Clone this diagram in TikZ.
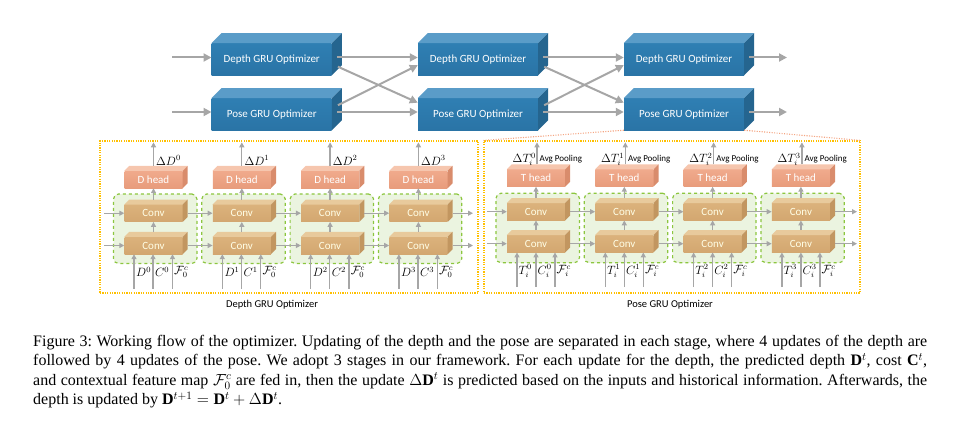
\RequirePackage{fix-cm}
\documentclass[tikz,border=0pt]{standalone}
\usepackage{fontspec}
\setmainfont{Liberation Serif}
\newfontfamily\carl{Carlito}
\usetikzlibrary{arrows.meta}
\definecolor{arrowgray}{HTML}{A6A6A6}
\definecolor{bluefront}{HTML}{2F7FB3}
\definecolor{bluefrontb}{HTML}{2A74A6}
\definecolor{bluetop}{HTML}{5A9CC8}
\definecolor{blueside}{HTML}{25658F}
\definecolor{headfront}{HTML}{F0AA8C}
\definecolor{headfrontb}{HTML}{E89C7C}
\definecolor{headtop}{HTML}{F6C6AE}
\definecolor{headside}{HTML}{D98C6C}
\definecolor{convfront}{HTML}{DBB27C}
\definecolor{convfrontb}{HTML}{D3A770}
\definecolor{convtop}{HTML}{E8CA9C}
\definecolor{convside}{HTML}{C29660}
\definecolor{greenfill}{HTML}{EBF4E0}
\definecolor{greenline}{HTML}{8CC63F}
\definecolor{goldline}{HTML}{FFC000}
\definecolor{salmonline}{HTML}{F4A582}
\newcommand\cubefaces[4]{%
  \fill[#3] (#1.north west) -- ([shift={(#2,-#2)}]#1.north west) -- ([shift={(#2,-#2)}]#1.north east) -- (#1.north east) -- cycle;
  \fill[#4] (#1.north east) -- ([shift={(#2,-#2)}]#1.north east) -- ([shift={(#2,-#2)}]#1.south east) -- (#1.south east) -- cycle;}
\tikzset{
  arr/.style={draw=arrowgray, line width=1.3pt, -{Triangle[length=5pt,width=5pt]}},
  bigarr/.style={draw=arrowgray, line width=2pt, -{Triangle[length=8pt,width=8pt]}},
  grubox/.style={minimum width=120pt, minimum height=31.7pt, inner sep=0pt, text=white,
    top color=bluefront, bottom color=bluefrontb, font=\carl\fontsize{11}{13}\selectfont},
  headbox/.style={minimum width=58pt, minimum height=17pt, inner sep=0pt, text=white,
    top color=headfront, bottom color=headfrontb, font=\carl\fontsize{11}{13}\selectfont},
  convbox/.style={minimum width=58pt, minimum height=17pt, inner sep=0pt, text=white!90!yellow,
    top color=convfront, bottom color=convfrontb, font=\carl\fontsize{11}{13}\selectfont},
  greenbox/.style={minimum width=83.4pt, minimum height=69.5pt, inner sep=0pt, fill=greenfill,
    draw=greenline, dashed, line width=1.2pt, rounded corners=5pt},
  goldbox/.style={minimum width=378pt, minimum height=152pt, inner sep=0pt,
    draw=goldline, line width=1.2pt, dash pattern=on 1.2pt off 1.2pt},
  mlbl/.style={inner sep=0pt, font=\fontsize{12}{13}\selectfont},
  smalltxt/.style={inner sep=0pt, font=\carl\fontsize{9}{11}\selectfont},
  undertxt/.style={inner sep=0pt, font=\carl\fontsize{10.5}{12}\selectfont},
}
\begin{document}
\begin{tikzpicture}[x=1pt,y=-1pt]
\useasboundingbox (0,0) rectangle (960,441);
% ---------- top row ----------
\foreach \n/\x in {A/271.7,B/478,C/684} {
  \node[grubox] (d\n) at (\x,59.2) {Depth GRU Optimizer};
  \cubefaces{d\n}{10}{bluetop}{blueside}
  \node[grubox] (p\n) at (\x,114.2) {Pose GRU Optimizer};
  \cubefaces{p\n}{10}{bluetop}{blueside}
}
\coordinate (inD) at (172,57.5);
\coordinate (inP) at (172,112);
\coordinate (outD) at (787,57.5);
\coordinate (outP) at (787,112);
\draw[bigarr] (inD) -- (inD -| dA.west);
\draw[bigarr] (inP) -- (inP -| pA.west);
\foreach \a/\b in {A/B,B/C} {
  \draw[bigarr] ([shift={(5,-1.7)}]d\a.east) -- ([shift={(0,-1.7)}]d\b.west);
  \draw[bigarr] ([shift={(5,-2.2)}]p\a.east) -- ([shift={(0,-2.2)}]p\b.west);
  \draw[bigarr] ([shift={(6,7.5)}]d\a.east) -- ([shift={(0,-11.5)}]p\b.west);
  \draw[bigarr] ([shift={(6,-9)}]p\a.east) -- ([shift={(0,6)}]d\b.west);
}
\draw[bigarr] ([shift={(5,-1.7)}]dC.east) -- (outD);
\draw[bigarr] ([shift={(5,-2.2)}]pC.east) -- (outP);
% ---------- dotted frames ----------
\node[goldbox] (frD) at (289,217) {};
\node[goldbox, minimum width=376pt] (frP) at (672,217) {};
\draw[salmonline, line width=1.1pt, dash pattern=on 1.1pt off 1.4pt] (pC.south west) -- (frP.north west);
\draw[salmonline, line width=1.1pt, dash pattern=on 1.1pt off 1.4pt] (pC.south east) -- (frP.north east);
\node[undertxt] (lblD) at (272,305) {Depth GRU Optimizer};
\node[undertxt] (lblP) at (670,305) {Pose GRU Optimizer};
% ---------- blocks ----------
\foreach \i in {0,...,3} {
  \pgfmathsetmacro\cx{153.5+88.3*\i}
  \node[greenbox] (dg\i) at ({\cx+1.7},228.75) {};
  \node[headbox] (dh\i) at (\cx,179.5) {D head};
  \cubefaces{dh\i}{5}{headtop}{headside}
  \node[convbox] (du\i) at (\cx,213.2) {Conv};
  \cubefaces{du\i}{5}{convtop}{convside}
  \node[convbox] (dl\i) at (\cx,245.5) {Conv};
  \cubefaces{dl\i}{5}{convtop}{convside}
  \pgfmathsetmacro\tx{536+88.3*\i}
  \node[greenbox] (tg\i) at ({\tx+1.7},228) {};
  \node[headbox] (th\i) at (\tx,178) {T head};
  \cubefaces{th\i}{5}{headtop}{headside}
  \node[convbox] (tu\i) at (\tx,211.7) {Conv};
  \cubefaces{tu\i}{5}{convtop}{convside}
  \node[convbox] (tl\i) at (\tx,243.7) {Conv};
  \cubefaces{tl\i}{5}{convtop}{convside}
}
% ---------- arrows and labels ----------
\foreach \i in {0,...,3} {
  \pgfmathsetmacro\cx{153.5+88.3*\i}
  \pgfmathsetmacro\tx{536+88.3*\i}
  % depth
  \draw[arr] ([yshift=5pt]dl\i.north) -- (du\i.south);
  \draw[arr] ([yshift=5pt]du\i.north) -- (dh\i.south);
  \coordinate (dout\i) at (\cx,142.3);
  \draw[arr] ([yshift=5pt]dh\i.north) -- (dout\i);
  \node[mlbl, anchor=west] (dlab\i) at ({\cx+2.5},160.5) {$\Delta D^{\i}$};
  \coordinate (dia\i) at ({\cx-19.5},288.5);
  \coordinate (dib\i) at ({\cx-0.5},288.5);
  \coordinate (dic\i) at ({\cx+19},288.5);
  \draw[arr] (dia\i) -- (dia\i |- dl\i.south);
  \draw[arr] (dib\i) -- (dib\i |- dl\i.south);
  \draw[arr] (dic\i) -- (dic\i |- dl\i.south);
  \node[mlbl, anchor=west] (dla\i) at ({\cx-17.5},272) {$D^{\i}$};
  \node[mlbl, anchor=west] (dlb\i) at ({\cx+1.5},272) {$C^{\i}$};
  \node[mlbl, anchor=west] (dlc\i) at ({\cx+20.5},272) {$\mathcal{F}_0^c$};
  % pose
  \draw[arr] ([yshift=5pt]tl\i.north) -- (tu\i.south);
  \draw[arr] ([yshift=5pt]tu\i.north) -- (th\i.south);
  \coordinate (tout\i) at ({\tx+1},142.3);
  \draw[arr] ([shift={(1,-5)}]th\i.north) -- (tout\i);
  \node[mlbl, anchor=east] (tlab\i) at ({\tx},159.5) {$\Delta T_i^{\i}$};
  \node[smalltxt, anchor=west] (tavg\i) at ({\tx+3.5},159.5) {Avg Pooling};
  \coordinate (tia\i) at ({\tx-19},287);
  \coordinate (tib\i) at ({\tx},287);
  \coordinate (tic\i) at ({\tx+19},287);
  \draw[arr] (tia\i) -- (tia\i |- tl\i.south);
  \draw[arr] (tib\i) -- (tib\i |- tl\i.south);
  \draw[arr] (tic\i) -- (tic\i |- tl\i.south);
  \node[mlbl, anchor=west] (tla\i) at ({\tx-17.5},271) {$T_i^{\i}$};
  \node[mlbl, anchor=west] (tlb\i) at ({\tx+1.5},271) {$C_i^{\i}$};
  \node[mlbl, anchor=west] (tlc\i) at ({\tx+20.5},271) {$\mathcal{F}_i^c$};
}
\coordinate (dinU) at (104,213.2);
\coordinate (dinL) at (104,245.5);
\draw[arr] (dinU) -- (du0.west);
\draw[arr] (dinL) -- (dl0.west);
\coordinate (tinU) at (487,211.7);
\coordinate (tinL) at (487,243.7);
\draw[arr] (tinU) -- (tu0.west);
\draw[arr] (tinL) -- (tl0.west);
\foreach \i/\j in {0/1,1/2,2/3} {
  \draw[arr] ([xshift=5pt]du\i.east) -- (du\j.west);
  \draw[arr] ([xshift=5pt]dl\i.east) -- (dl\j.west);
  \draw[arr] ([xshift=5pt]tu\i.east) -- (tu\j.west);
  \draw[arr] ([xshift=5pt]tl\i.east) -- (tl\j.west);
}
\coordinate (doutU) at (473,213.2);
\coordinate (doutL) at (473,245.5);
\coordinate (toutU) at (857,211.7);
\coordinate (toutL) at (857,243.7);
\draw[arr] ([xshift=5pt]du3.east) -- (doutU);
\draw[arr] ([xshift=5pt]dl3.east) -- (doutL);
\draw[arr] ([xshift=5pt]tu3.east) -- (toutU);
\draw[arr] ([xshift=5pt]tl3.east) -- (toutL);
% ---------- caption ----------
\node[anchor=north west, inner sep=0pt, text width=894pt, align=justify,
      font=\fontsize{16}{19.5}\selectfont\frenchspacing] (cap) at (33,335)
 {Figure 3: Working flow of the optimizer. Updating of the depth and the pose are separated in each stage, where 4 updates of the depth are\linebreak
 followed by 4 updates of the pose. We adopt 3 stages in our framework. For each update for the depth, the predicted depth $\mathbf{D}^t$, cost $\mathbf{C}^t$,\linebreak
 and contextual feature map $\mathcal{F}_0^c$ are fed in, then the update $\Delta\mathbf{D}^t$ is predicted based on the inputs and historical information. Afterwards, the\linebreak
 depth is updated by $\mathbf{D}^{t+1}=\mathbf{D}^t+\Delta\mathbf{D}^t$.};
\end{tikzpicture}
\end{document}
